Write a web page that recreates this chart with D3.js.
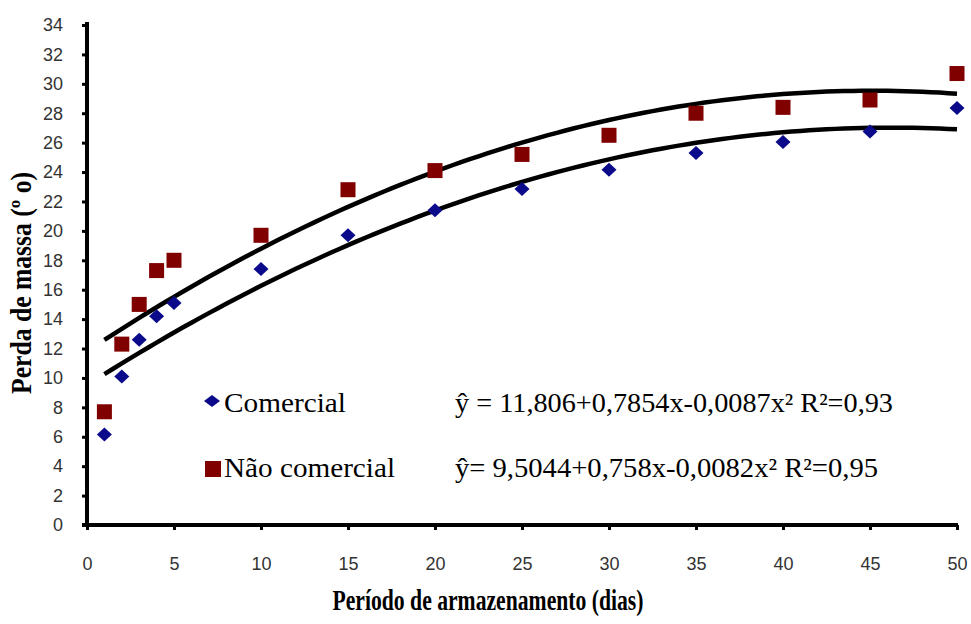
<!DOCTYPE html>
<html>
<head>
<meta charset="utf-8">
<script src="https://cdn.jsdelivr.net/npm/d3@7"></script>
<style>
    body { margin: 0; background: #fff; }
    svg { display: block; }
    .tick text { font-family: "Liberation Sans", Arial, sans-serif; font-size: 18px; fill: #333; }
    .serif { font-family: "Liberation Serif", "Times New Roman", serif; fill: #000; }
</style>
</head>
<body>
<svg id="svg" width="971" height="624"></svg>
<script>
const width = 971;
const height = 624;
const margin = {top: 25, left: 87, bottom: 99, right: 14};

// dias de armazenamento
const dias = [1, 2, 3, 4, 5, 10, 15, 20, 25, 30, 35, 40, 45, 50];
// perda de massa (%)
const comercial = [6.15, 10.1, 12.6, 14.2, 15.1, 17.4, 19.7, 21.4, 22.85, 24.15, 25.3, 26.05, 26.75, 28.35];
const naoComercial = [7.7, 12.3, 15.0, 17.3, 18.0, 19.7, 22.8, 24.1, 25.2, 26.5, 28.0, 28.4, 28.9, 30.7];

// coeficientes das curvas de tendencia (a + b x + c x^2)
const coefSuperior = [11.806, 0.7854, -0.0087];
const coefInferior = [9.5044, 0.758, -0.0082];

const xTicks = [0, 5, 10, 15, 20, 25, 30, 35, 40, 45, 50];
const yTicks = d3.range(0, 35, 2);

const legendLabels = ["Comercial", "Não comercial"];
const equations = ["ŷ = 11,806+0,7854x-0,0087x² R²=0,93", "ŷ= 9,5044+0,758x-0,0082x² R²=0,95"];

const svg = d3.select("#svg");

const xScale = d3.scaleLinear().domain([0, 50]).range([margin.left, width - margin.right]);
const yScale = d3.scaleLinear().domain([0, 34]).range([height - margin.bottom, margin.top]);

drawAxes();
drawCurves();
drawPoints();
drawLegend();

function drawAxes() {
    const yAxis = d3.axisLeft(yScale).tickValues(yTicks).tickSize(5).tickSizeOuter(0).tickPadding(19);
    const gy = svg.append("g")
        .attr("class", "y axis")
        .attr("transform", "translate(" + [margin.left, 0] + ")")
        .call(yAxis);

    const xAxis = d3.axisBottom(xScale).tickValues(xTicks).tickSize(5).tickSizeOuter(0).tickPadding(27);
    const gx = svg.append("g")
        .attr("class", "x axis")
        .attr("transform", "translate(" + [0, yScale(0)] + ")")
        .call(xAxis);

    [gx, gy].forEach(function(g) {
        g.select(".domain").remove();
        g.selectAll(".tick line").attr("stroke", "#000").attr("stroke-width", 3);
    });

    // linhas dos eixos, grossas
    svg.append("line")
        .attr("x1", margin.left).attr("x2", margin.left)
        .attr("y1", yScale(34) - 3).attr("y2", yScale(0) + 2)
        .attr("stroke", "#000").attr("stroke-width", 4);
    svg.append("line")
        .attr("x1", margin.left - 5).attr("x2", xScale(50) + 1)
        .attr("y1", yScale(0)).attr("y2", yScale(0))
        .attr("stroke", "#000").attr("stroke-width", 4);

    svg.append("text")
        .attr("class", "serif")
        .attr("x", 488).attr("y", 610)
        .attr("text-anchor", "middle")
        .attr("font-size", 29).attr("font-weight", "bold")
        .attr("textLength", 311).attr("lengthAdjust", "spacingAndGlyphs")
        .text("Período de armazenamento (dias)");

    svg.append("text")
        .attr("class", "serif")
        .attr("transform", "translate(31,283) rotate(-90)")
        .attr("text-anchor", "middle")
        .attr("font-size", 29).attr("font-weight", "bold")
        .attr("textLength", 222).attr("lengthAdjust", "spacingAndGlyphs")
        .text("Perda de massa (º o)");
}

function drawCurves() {
    const xs = d3.range(1, 50.01, 0.5);
    const line = d3.line()
        .x(function(d) { return xScale(d); });

    [coefSuperior, coefInferior].forEach(function(c) {
        line.y(function(d) { return yScale(c[0] + c[1] * d + c[2] * d * d); });
        svg.append("path")
            .datum(xs)
            .attr("fill", "none")
            .attr("stroke", "#000")
            .attr("stroke-width", 4.5)
            .attr("d", line);
    });
}

function drawPoints() {
    svg.append("g").selectAll("rect")
        .data(naoComercial)
        .join("rect")
        .attr("x", function(d, i) { return xScale(dias[i]) - 7.5; })
        .attr("y", function(d) { return yScale(d) - 7.5; })
        .attr("width", 15).attr("height", 15)
        .attr("fill", "#800000");

    svg.append("g").selectAll("path")
        .data(comercial)
        .join("path")
        .attr("transform", function(d, i) { return "translate(" + [xScale(dias[i]), yScale(d)] + ")"; })
        .attr("d", "M0,-7L7.5,0L0,7L-7.5,0Z")
        .attr("fill", "#0a0a8a");
}

function drawLegend() {
    const rows = [412, 477];

    svg.append("path")
        .attr("transform", "translate(" + [212, rows[0] - 11] + ")")
        .attr("d", "M0,-6L8,0L0,6L-8,0Z")
        .attr("fill", "#0a0a8a");
    svg.append("rect")
        .attr("x", 205).attr("y", rows[1] - 16)
        .attr("width", 16).attr("height", 16)
        .attr("fill", "#800000");

    const widths = [122, 171];
    legendLabels.forEach(function(t, i) {
        svg.append("text")
            .attr("class", "serif")
            .attr("x", 224).attr("y", rows[i])
            .attr("font-size", 28)
            .attr("textLength", widths[i]).attr("lengthAdjust", "spacingAndGlyphs")
            .text(t);
    });

    const eqWidths = [438, 423];
    equations.forEach(function(t, i) {
        svg.append("text")
            .attr("class", "serif")
            .attr("x", 455).attr("y", rows[i])
            .attr("font-size", 27)
            .attr("textLength", eqWidths[i]).attr("lengthAdjust", "spacingAndGlyphs")
            .text(t);
    });
}
</script>
</body>
</html>
